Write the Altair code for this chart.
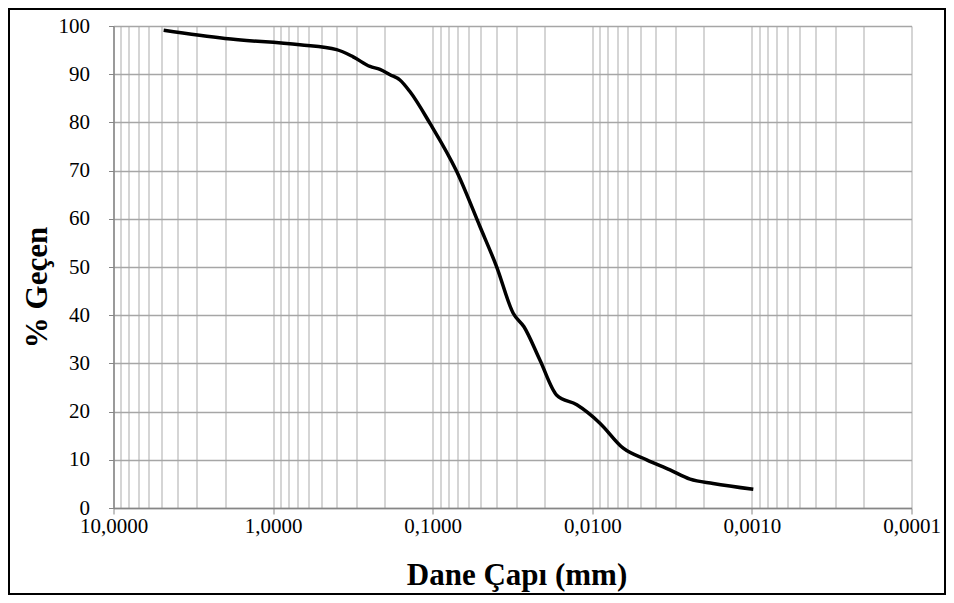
import altair as alt
import pandas as pd

# grain diameter (mm) and percent passing
diameter = [4.85, 2.0, 0.68, 0.40, 0.315, 0.247, 0.214, 0.185, 0.1605, 0.139,
            0.104, 0.0707, 0.0506, 0.0398, 0.0313, 0.0268, 0.0213,
            0.0167, 0.0125, 0.00896, 0.0064, 0.00456, 0.00326, 0.00244,
            0.00175, 0.00098]
passing = [99.1, 97.4, 96.1, 95.1, 93.6, 91.6, 91.0, 89.9, 88.8, 86.4,
           79.8, 69.8, 58.4, 50.1, 40.4, 37.6, 30.7,
           23.4, 21.4, 17.6, 12.4, 10.0, 7.9, 6.0,
           5.1, 3.9]

decades = [10, 1, 0.1, 0.01, 0.001, 0.0001]
decade_labels = ["10,0000", "1,0000", "0,1000", "0,0100", "0,0010", "0,0001"]
y_ticks = list(range(0, 101, 10))

# all log grid positions (1..9 x each decade)
grid_vals = []
for dec in [0.0001, 0.001, 0.01, 0.1, 1]:
    for m in range(1, 10):
        grid_vals.append(round(m * dec, 10))
grid_vals.append(10)

df = pd.DataFrame({"d": diameter, "p": passing, "i": list(range(len(diameter)))})

label_expr = ""
for v, lab in zip(decades, decade_labels):
    label_expr += f"abs(datum.value/{v}-1)<1e-6 ? '{lab}' : "
label_expr += "''"

is_decade = " || ".join([f"abs(datum.value/{v}-1)<1e-6" for v in decades])

FONT = "Liberation Serif"

W, H = 798, 482

line = alt.Chart(df).mark_line(
    color="black", strokeWidth=3.5, interpolate="monotone", clip=False
).encode(
    x=alt.X("d:Q",
            scale=alt.Scale(type="log", domain=[0.0001, 10], reverse=True, nice=False),
            axis=alt.Axis(values=grid_vals, labelExpr=label_expr, labelOverlap=False,
                          labelFont=FONT, labelFontSize=21, labelColor="black",
                          labelPadding=1, labelFlush=False,
                          tickSize=6, tickColor="#868686",
                          tickOpacity={"condition": {"test": is_decade, "value": 1}, "value": 0},
                          grid=True, gridColor="#bfbfbf", gridWidth=1.3,
                          domainColor="#868686", domainWidth=1.5,
                          title="Dane Çapı (mm)", titleFont=FONT, titleFontSize=31,
                          titleFontWeight="bold", titleColor="black",
                          titleBaseline="middle", titleX=403, titleY=67)),
    y=alt.Y("p:Q",
            scale=alt.Scale(domain=[0, 100], nice=False),
            axis=alt.Axis(values=y_ticks, labelFont=FONT, labelFontSize=21,
                          labelColor="black", labelPadding=19,
                          tickSize=5, tickColor="#868686",
                          grid=True, gridColor="#a6a6a6", gridWidth=1.3,
                          domainColor="#868686", domainWidth=1.5,
                          title="% Geçen", titleFont=FONT, titleFontSize=31,
                          titleFontWeight="bold", titleColor="black",
                          titleBaseline="middle", titleAngle=270,
                          titleX=-76, titleY=261)),
    order=alt.Order("i:Q"),
)

border = alt.Chart(alt.Data(values=[{"a": 1}])).mark_rect(
    filled=False, stroke="black", strokeWidth=2, clip=False
).encode(
    x=alt.value(-104.5), x2=alt.value(831.5),
    y=alt.value(-17), y2=alt.value(568),
)

chart = alt.layer(line, border).properties(
    width=W, height=H,
    padding={"left": 105.5, "top": 18, "right": 34.5, "bottom": 87},
    autosize=alt.AutoSizeParams(type="none"),
    background="white",
).configure_view(stroke=None)

chart.save("out.html", embed_options={"renderer": "svg", "actions": False})
